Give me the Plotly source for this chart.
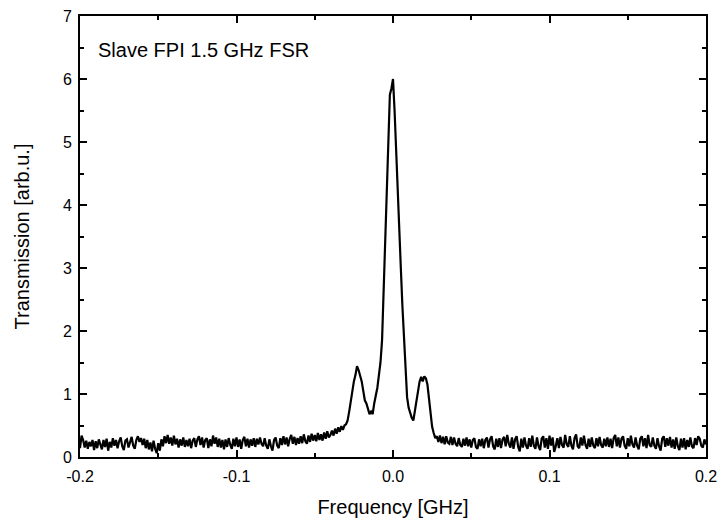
import numpy as np
import plotly.graph_objects as go

# Transmission values, sampled every 0.001 GHz from -0.200 to 0.200 GHz
base_left = [
    0.14, 0.34, 0.27, 0.15, 0.26, 0.13, 0.24, 0.17, 0.27, 0.11,
    0.25, 0.14, 0.28, 0.18, 0.12, 0.27, 0.16, 0.29, 0.10, 0.24,
    0.15, 0.30, 0.18, 0.27, 0.14, 0.25, 0.31, 0.17, 0.11, 0.26,
    0.28, 0.15, 0.25, 0.32, 0.18, 0.13, 0.27, 0.33, 0.24, 0.30,
    0.19, 0.29, 0.14, 0.27, 0.12, 0.23, 0.09, 0.26, 0.13, 0.06,
    0.22, 0.10, 0.28, 0.17, 0.33, 0.22, 0.35, 0.21, 0.31, 0.18,
    0.34, 0.20, 0.29, 0.15, 0.28, 0.18, 0.31, 0.16, 0.27, 0.17,
    0.29, 0.14, 0.26, 0.30, 0.16, 0.28, 0.33, 0.19, 0.31, 0.15,
    0.27, 0.30, 0.14, 0.28, 0.17, 0.34, 0.21, 0.31, 0.16, 0.29,
    0.15, 0.27, 0.12, 0.28, 0.16, 0.30, 0.19, 0.13, 0.29, 0.17,
    0.31, 0.16, 0.28, 0.13, 0.27, 0.32, 0.17, 0.29, 0.15, 0.28,
    0.18, 0.30, 0.16, 0.29, 0.20, 0.31, 0.21, 0.17, 0.30, 0.18,
    0.13, 0.28, 0.17, 0.10, 0.27, 0.31, 0.18, 0.14, 0.30, 0.19,
    0.33, 0.20, 0.31, 0.17, 0.29, 0.35, 0.21, 0.32, 0.19, 0.30,
    0.21, 0.33, 0.22, 0.36, 0.25, 0.21, 0.34, 0.24, 0.37, 0.26,
    0.35, 0.25, 0.38, 0.27, 0.36, 0.26, 0.39, 0.29, 0.41, 0.31,
]
peak = [
    0.35, 0.42, 0.34, 0.45, 0.37, 0.47, 0.40, 0.49, 0.43, 0.50,
    0.52, 0.58, 0.72, 0.90, 1.10, 1.20, 1.30, 1.44, 1.38, 1.30,
    1.20, 1.05, 0.90, 0.85, 0.75, 0.68, 0.72, 0.68, 0.85, 0.95,
    1.10, 1.30, 1.50, 1.85, 2.60, 3.40, 4.10, 4.90, 5.75, 5.85,
    6.00, 5.50, 4.80, 4.10, 3.60, 3.00, 2.40, 1.85, 1.35, 0.95,
    0.78, 0.68, 0.62, 0.58, 0.72, 0.88, 1.05, 1.20, 1.27, 1.20,
    1.28, 1.25, 1.15, 0.92, 0.68, 0.48, 0.38, 0.30, 0.33,
]
base_right = [
    0.24, 0.34, 0.22, 0.32, 0.20, 0.33, 0.23, 0.21, 0.32, 0.19,
    0.31, 0.21, 0.17, 0.30, 0.19, 0.16, 0.29, 0.18, 0.31, 0.17,
    0.28, 0.15, 0.27, 0.30, 0.16, 0.13, 0.28, 0.17, 0.29, 0.14,
    0.27, 0.31, 0.15, 0.28, 0.33, 0.17, 0.12, 0.29, 0.16, 0.30,
    0.14, 0.28, 0.32, 0.17, 0.35, 0.21, 0.15, 0.31, 0.13, 0.28,
    0.33, 0.16, 0.09, 0.29, 0.15, 0.31, 0.18, 0.13, 0.30, 0.16,
    0.34, 0.18, 0.13, 0.31, 0.17, 0.11, 0.29, 0.33, 0.15, 0.30,
    0.13, 0.34, 0.18, 0.31, 0.08, 0.17, 0.30, 0.14, 0.32, 0.19,
    0.15, 0.35, 0.20, 0.16, 0.33, 0.18, 0.12, 0.30, 0.36, 0.17,
    0.14, 0.31, 0.18, 0.34, 0.19, 0.13, 0.29, 0.16, 0.31, 0.18,
    0.14, 0.30, 0.17, 0.32, 0.19, 0.15, 0.29, 0.17, 0.31, 0.16,
    0.29, 0.14, 0.30, 0.35, 0.17, 0.31, 0.15, 0.29, 0.33, 0.18,
    0.13, 0.30, 0.17, 0.34, 0.20, 0.15, 0.31, 0.18, 0.12, 0.29,
    0.33, 0.17, 0.30, 0.14, 0.35, 0.19, 0.16, 0.31, 0.18, 0.13,
    0.30, 0.17, 0.10, 0.29, 0.33, 0.16, 0.30, 0.18, 0.32, 0.15,
    0.28, 0.13, 0.31, 0.17, 0.11, 0.29, 0.15, 0.30, 0.12, 0.27,
    0.16, 0.31, 0.17, 0.14, 0.30, 0.19, 0.33, 0.29, 0.18, 0.15,
    0.28, 0.20,
]
transmission = base_left + peak + base_right
freq_start, freq_end = -0.2, 0.2
frequency = np.linspace(freq_start, freq_end, len(transmission))

x_tickvals = [-0.2, -0.1, 0.0, 0.1, 0.2]
x_ticktext = ["-0.2", "-0.1", "0.0", "0.1", "0.2"]
y_tickvals = [0, 1, 2, 3, 4, 5, 6, 7]
y_ticktext = [str(v) for v in y_tickvals]

FONT = "Liberation Sans, Arial, sans-serif"

fig = go.Figure()
fig.add_trace(go.Scatter(x=frequency, y=transmission, mode="lines",
                         line=dict(color="black", width=2.2), showlegend=False))

axis_common = dict(showline=True, linecolor="black", linewidth=2, mirror="ticks",
                   ticks="inside", ticklen=7, tickwidth=1.5, tickcolor="black",
                   showgrid=False, zeroline=False, automargin=False,
                   tickfont=dict(family=FONT, size=16, color="black"))

fig.update_xaxes(range=[freq_start, freq_end], tickmode="array",
                 tickvals=x_tickvals, ticktext=x_ticktext, ticklabelstandoff=4,
                 minor=dict(dtick=0.05, tick0=0, ticks="inside", ticklen=4,
                            tickwidth=1.5, tickcolor="black", showgrid=False),
                 title=dict(text="Frequency [GHz]",
                            font=dict(family=FONT, size=20, color="black")),
                 **axis_common)
fig.update_yaxes(range=[0, 7], tickmode="array",
                 tickvals=y_tickvals, ticktext=y_ticktext, ticklabelstandoff=3,
                 minor=dict(dtick=0.5, tick0=0, ticks="inside", ticklen=4,
                            tickwidth=1.5, tickcolor="black", showgrid=False),
                 title=dict(text="Transmission [arb.u.]",
                            font=dict(family=FONT, size=20, color="black")),
                 **axis_common)

fig.add_annotation(text="Slave FPI 1.5 GHz FSR", xref="paper", yref="paper",
                   x=0.0255, y=0.922, xanchor="left", yanchor="middle",
                   showarrow=False, font=dict(family=FONT, size=20, color="black"))

fig.update_layout(template="none", width=718, height=518,
                  margin=dict(l=80, r=12, t=16, b=61),
                  paper_bgcolor="white", plot_bgcolor="white")

fig.write_html("out.html")
